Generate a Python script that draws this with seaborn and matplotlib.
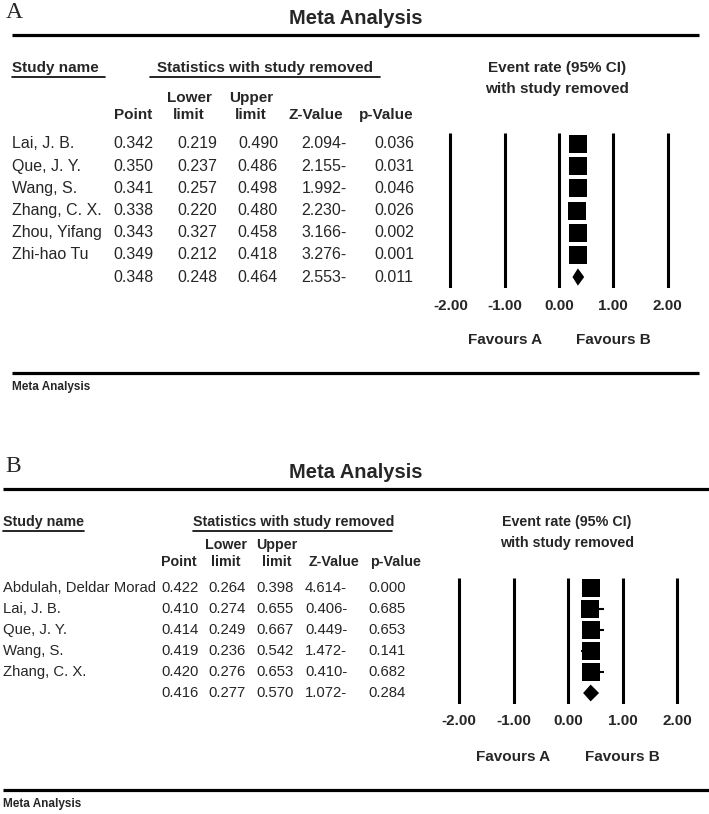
import numpy as np
import pandas as pd
import seaborn as sns
import matplotlib.pyplot as plt

sns.set_theme(style='white')
plt.rcParams['font.family'] = ['Liberation Sans', 'DejaVu Sans']

# ---- panel A data ----
a_studies = ['Lai, J. B.', 'Que, J. Y.', 'Wang, S.', 'Zhang, C. X.', 'Zhou, Yifang', 'Zhi-hao Tu']
a_point = [0.342, 0.350, 0.341, 0.338, 0.343, 0.349]
a_lower = [0.219, 0.237, 0.257, 0.220, 0.327, 0.212]
a_upper = [0.490, 0.486, 0.498, 0.480, 0.458, 0.418]
a_z = ['2.094-', '2.155-', '1.992-', '2.230-', '3.166-', '3.276-']
a_p = [0.036, 0.031, 0.046, 0.026, 0.002, 0.001]
a_summary = [0.348, 0.248, 0.464, '2.553-', 0.011]

# ---- panel B data ----
b_studies = ['Abdulah, Deldar Morad', 'Lai, J. B.', 'Que, J. Y.', 'Wang, S.', 'Zhang, C. X.']
b_point = [0.422, 0.410, 0.414, 0.419, 0.420]
b_lower = [0.264, 0.274, 0.249, 0.236, 0.276]
b_upper = [0.398, 0.655, 0.667, 0.542, 0.653]
b_z = ['4.614-', '0.406-', '0.449-', '1.472-', '0.410-']
b_p = [0.000, 0.685, 0.653, 0.141, 0.682]
b_summary = [0.416, 0.277, 0.570, '1.072-', 0.284]

ticks = [-2, -1, 0, 1, 2]
tick_labels = ['-2.00', '-1.00', '0.00', '1.00', '2.00']

W, H = 709, 814
fig = plt.figure(figsize=(W / 100, H / 100), dpi=100)
bg = fig.add_axes([0, 0, 1, 1])
bg.set_xlim(0, W)
bg.set_ylim(H, 0)
bg.axis('off')


def px_axes(left, top, right, bottom):
    return fig.add_axes([left / W, 1 - bottom / H, (right - left) / W, (bottom - top) / H])


def panel(letter, studies, point, lower, upper, zval, pval, summary, lay):
    fs = lay['fs']
    hs = lay['hs']
    y0 = lay['y0']
    bg.text(lay['letter_x'], y0 - 5, letter, family='Liberation Serif', fontsize=17,
            ha='left', va='center')
    bg.text(356, y0, 'Meta Analysis', fontsize=14.5, fontweight='bold', ha='center', va='center')
    bg.plot(lay['line_x'], [y0 + 17, y0 + 17], color='black', lw=2.3, solid_capstyle='butt')

    yh = y0 + 50
    bg.text(lay['name_x'], yh, 'Study name', fontsize=hs, fontweight='bold', ha='left', va='center')
    bg.plot(lay['name_ul'], [yh + 8.5, yh + 8.5], color='black', lw=1.2)
    bg.text(lay['stat_x'], yh, 'Statistics with study removed', fontsize=hs,
            fontweight='bold', ha='left', va='center')
    bg.plot(lay['stat_ul'], [yh + 8.5, yh + 8.5], color='black', lw=1.2)
    bg.text(lay['ev_x'], yh, 'Event rate (95% CI)', fontsize=hs, fontweight='bold',
            ha='center', va='center')
    bg.text(lay['ev_x'], yh + 21, 'with study removed', fontsize=hs, fontweight='bold',
            ha='center', va='center')

    hx = lay['head_x']
    y1, y2 = lay['head_y']
    bg.text(hx[1], y1, 'Lower', fontsize=hs, fontweight='bold', ha='center', va='center')
    bg.text(hx[2], y1, 'Upper', fontsize=hs, fontweight='bold', ha='center', va='center')
    for x, s in zip(hx, ['Point', 'limit', 'limit', 'Z-Value', 'p-Value']):
        bg.text(x, y2, s, fontsize=hs, fontweight='bold', ha='center', va='center')

    # table rows
    vx = lay['val_x']
    r0, dr = lay['row0'], lay['dr']
    n = len(studies)
    for i in range(n + 1):
        y = r0 + i * dr
        if i < n:
            bg.text(lay['name_x'], y, studies[i], fontsize=fs, ha='left', va='center')
            vals = [f'{point[i]:.3f}', f'{lower[i]:.3f}', f'{upper[i]:.3f}', zval[i], f'{pval[i]:.3f}']
        else:
            vals = [f'{summary[0]:.3f}', f'{summary[1]:.3f}', f'{summary[2]:.3f}', summary[3],
                    f'{summary[4]:.3f}']
        for x, s in zip(vx, vals):
            bg.text(x, y, s, fontsize=fs, ha='center', va='center')

    # forest plot
    zero, unit = lay['zero'], lay['unit']
    ax = px_axes(zero - 2.4 * unit, r0 - dr / 2, zero + 2.4 * unit, r0 + n * dr + dr / 2)
    ax.set_xlim(-2.4, 2.4)
    ax.set_ylim(n + 0.5, -0.5)
    ax.patch.set_alpha(0)
    for sp in ax.spines.values():
        sp.set_visible(False)
    ax.vlines(ticks, -0.5, n + 0.5, color='black', lw=2.2)
    df = pd.DataFrame({'row': np.arange(n), 'point': point, 'lower': lower, 'upper': upper})
    ax.hlines(df['row'], df['lower'], df['upper'], color='black', lw=1.5)
    sns.scatterplot(data=df, x='point', y='row', marker='s', s=lay['sq'], color='black',
                    linewidth=0, ax=ax, legend=False, zorder=3)
    lo, pt, hi = summary[1], summary[0], summary[2]
    h = lay['dh']
    ax.fill([lo, pt, hi, pt], [n, n - h, n, n + h], color='black', lw=0)
    ax.set_xticks(ticks)
    ax.set_xticklabels(tick_labels, fontsize=11, fontweight='bold')
    ax.set_yticks([])
    ax.tick_params(axis='x', length=0, pad=lay['pad'])
    ax.set_xlabel('')
    ax.set_ylabel('')

    fy = lay['fav_y']
    bg.text(zero - unit, fy, 'Favours A', fontsize=11, fontweight='bold', ha='center', va='center')
    bg.text(zero + unit, fy, 'Favours B', fontsize=11, fontweight='bold', ha='center', va='center')

    by = lay['bot_y']
    bg.plot(lay['line_x'], [by, by], color='black', lw=2.3, solid_capstyle='butt')
    bg.text(lay['name_x'], by + 14, 'Meta Analysis', fontsize=8.5, fontweight='bold',
            ha='left', va='center')


lay_a = dict(fs=11.5, hs=11, y0=18, letter_x=6, line_x=[12, 699], name_x=12,
             name_ul=[12, 105], stat_x=157, stat_ul=[150, 380], ev_x=557,
             head_x=[133, 189, 251, 316, 386], head_y=(98, 115),
             val_x=[133, 197, 258, 324, 394], row0=144, dr=22.17,
             zero=559, unit=54.3, sq=187, dh=0.39, pad=8, fav_y=340, bot_y=373)

lay_b = dict(fs=10.7, hs=10.3, y0=472, letter_x=5, line_x=[3, 709], name_x=3,
             name_ul=[3, 84], stat_x=193, stat_ul=[193, 392], ev_x=567,
             head_x=[179, 226, 277, 334, 395], head_y=(545, 562),
             val_x=[180, 227, 275, 326, 387], row0=588, dr=21.0,
             zero=568, unit=54.5, sq=165, dh=0.4, pad=7.5, fav_y=757, bot_y=790)

panel('A', a_studies, a_point, a_lower, a_upper, a_z, a_p, a_summary, lay_a)
panel('B', b_studies, b_point, b_lower, b_upper, b_z, b_p, b_summary, lay_b)

fig.savefig('out.png', dpi=100)
